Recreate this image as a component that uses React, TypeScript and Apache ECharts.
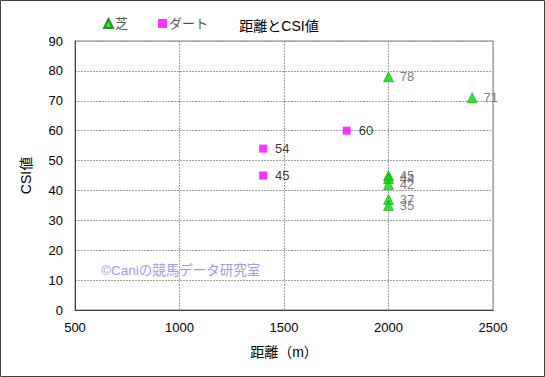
import React, { useEffect, useRef } from "react";
import * as echarts from "echarts";

const turfDistances = [2000, 2000, 2000, 2000, 2000, 2000, 2400];
const turfCSI = [78, 45, 44, 42, 37, 35, 71];
const dirtDistances = [1400, 1400, 1800];
const dirtCSI = [54, 45, 60];
const seriesNames = ["芝", "ダート"];
const titleText = "距離とCSI値";
const xAxisName = "距離（m）";
const yAxisName = "CSI値";
const watermark = "©Caniの競馬データ研究室";

const FONT = "'Liberation Sans', 'Noto Sans CJK JP', sans-serif";

export default function App() {
  const ref = useRef<HTMLDivElement>(null);
  useEffect(() => {
    document.body.style.margin = "0";
    const chart = echarts.init(ref.current!, null, { renderer: "svg" });
    const turf = turfDistances.map((d, i) => [d, turfCSI[i]]);
    const dirt = dirtDistances.map((d, i) => [d, dirtCSI[i]]);
    chart.setOption({
      animation: false,
      backgroundColor: "#ffffff",
      textStyle: { fontFamily: FONT },
      title: {
        text: titleText,
        left: 274,
        top: 14,
        textAlign: "center",
        textStyle: { fontSize: 14, fontWeight: "normal", color: "#000", fontFamily: FONT },
      },
      legend: {
        left: 98,
        top: 12,
        itemWidth: 9,
        itemHeight: 9,
        itemGap: 30,
        textStyle: { color: "#595959", fontSize: 13, fontFamily: FONT, padding: [0, 0, 0, -3] },
        data: [
          { name: seriesNames[0], icon: "triangle" },
          { name: seriesNames[1], icon: "rect" },
        ],
      },
      grid: {
        left: 75,
        right: 52,
        top: 41,
        bottom: 67,
        show: true,
        borderColor: "#808080",
        borderWidth: 1,
      },
      xAxis: {
        type: "value",
        min: 500,
        max: 2500,
        interval: 500,
        name: xAxisName,
        nameLocation: "middle",
        nameGap: 35,
        nameTextStyle: { fontSize: 14, color: "#000", fontFamily: FONT },
        axisLine: { show: true, lineStyle: { color: "#404040", width: 1 } },
        axisTick: { show: false },
        axisLabel: { color: "#000", fontSize: 13, margin: 11, fontFamily: FONT, formatter: (v: number) => String(v) },
        splitLine: { show: true, lineStyle: { color: "#a0a0a0", type: [2, 1], width: 1 } },
      },
      yAxis: {
        type: "value",
        min: 0,
        max: 90,
        interval: 10,
        name: yAxisName,
        nameLocation: "middle",
        nameGap: 42,
        nameRotate: 90,
        nameTextStyle: { fontSize: 14, color: "#000", fontFamily: FONT },
        axisLine: { show: true, lineStyle: { color: "#404040", width: 1 } },
        axisTick: { show: false },
        axisLabel: { color: "#000", fontSize: 13, margin: 12, fontFamily: FONT },
        splitLine: { show: true, lineStyle: { color: "#a0a0a0", type: [2, 1], width: 1 } },
      },
      series: [
        {
          name: seriesNames[0],
          type: "scatter",
          symbol: "triangle",
          symbolSize: 10,
          data: turf,
          itemStyle: { color: "#00dd00", borderColor: "#008000", borderWidth: 0.6 },
          label: {
            show: true,
            position: "right",
            distance: 6,
            formatter: (p: any) => String(p.value[1]),
            color: "#595959",
            fontSize: 13,
            fontFamily: FONT,
          },
        },
        {
          name: seriesNames[1],
          type: "scatter",
          symbol: "rect",
          symbolSize: 8,
          data: dirt,
          itemStyle: { color: "#ff00ff" },
          label: {
            show: true,
            position: "right",
            distance: 8,
            formatter: (p: any) => String(p.value[1]),
            color: "#000",
            fontSize: 13,
            fontFamily: FONT,
          },
        },
      ],
      graphic: [
        {
          type: "rect",
          shape: { x: 0.5, y: 0.5, width: 544, height: 376 },
          style: { fill: "none", stroke: "#404040", lineWidth: 1 },
          silent: true,
        },
        {
          type: "text",
          left: 101,
          top: 264,
          style: { text: watermark, fill: "#9a9af5", fontSize: 13.5, fontFamily: FONT },
          silent: true,
        },
      ],
    });
    return () => chart.dispose();
  }, []);
  return <div ref={ref} style={{ width: 545, height: 377 }} />;
}
